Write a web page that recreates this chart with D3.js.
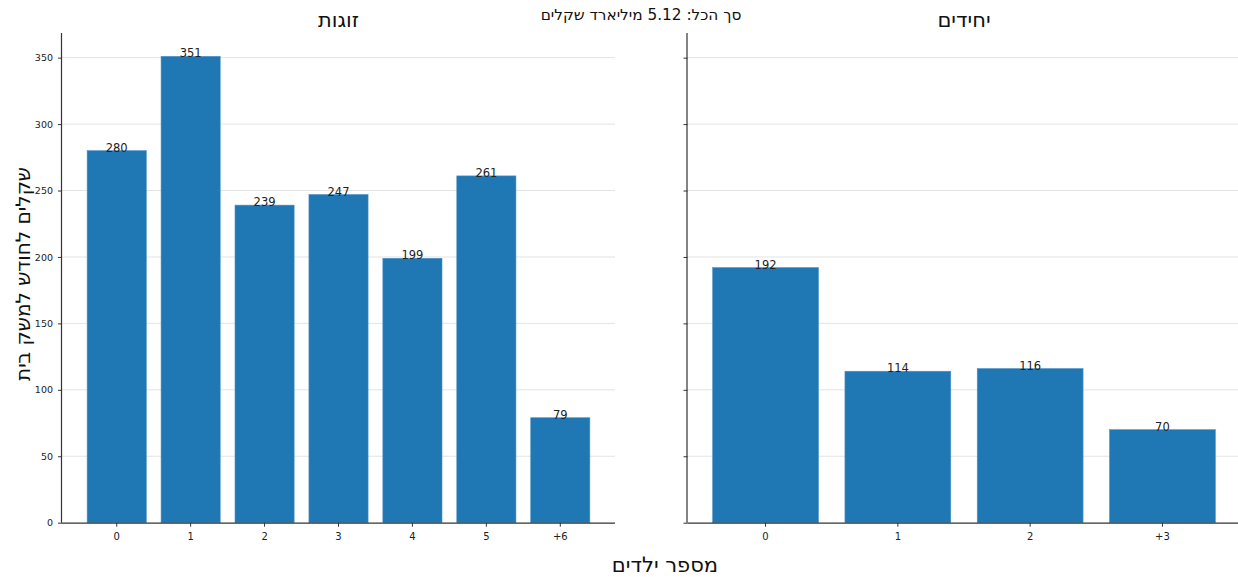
<!DOCTYPE html>
<html>
<head>
<meta charset="utf-8">
<script src="https://cdn.jsdelivr.net/npm/d3@7"></script>
<style>
  body { margin: 0; background: #fff; }
  svg { display: block; }
  text { font-family: "DejaVu Sans", sans-serif; }
</style>
</head>
<body>
<svg id="chart" width="1238" height="577"></svg>
<script>
const couplesCats = ["0", "1", "2", "3", "4", "5", "+6"];
const couplesVals = [280, 351, 239, 247, 199, 261, 79];
const singlesCats = ["0", "1", "2", "+3"];
const singlesVals = [192, 114, 116, 70];
const yTicks = [0, 50, 100, 150, 200, 250, 300, 350];
const couplesTitle = "זוגות";
const singlesTitle = "יחידים";
const supTitle = "סך הכל: 5.12 מיליארד שקלים";
const xLabel = "מספר ילדים";
const yLabel = "שקלים לחודש למשק בית";

const svg = d3.select("#chart");
const barColor = "#1f77b4";
const yMax = Math.max(...couplesVals, ...singlesVals) * 1.05;
const plotTop = 33, plotBottom = 522.7;
const y = d3.scaleLinear().domain([0, yMax]).range([plotBottom, plotTop]);

function panel(cats, vals, x0, x1, title, showLabels) {
  const n = cats.length;
  // matplotlib-like: bar width 0.8, margins 5% of data span
  const span = (n - 1) + 0.8;
  const po = (span * 1.1 - (n - 0.2)) / 2;
  const x = d3.scaleBand().domain(cats).range([x0, x1]).paddingInner(0.2).paddingOuter(po);
  const g = svg.append("g");

  // grid
  g.append("g").selectAll("line").data(yTicks.filter(d => d > 0)).join("line")
    .attr("x1", x0).attr("x2", x1)
    .attr("y1", d => y(d)).attr("y2", d => y(d))
    .attr("stroke", "#e3e3e3").attr("stroke-width", 1);

  // bars
  g.append("g").selectAll("rect").data(vals).join("rect")
    .attr("x", (d, i) => x(cats[i]))
    .attr("width", x.bandwidth())
    .attr("y", d => y(d))
    .attr("height", d => y(0) - y(d))
    .attr("fill", barColor)
    .attr("stroke", "#4d92c7").attr("stroke-width", 0.6);

  // value labels
  g.append("g").selectAll("text").data(vals).join("text")
    .attr("x", (d, i) => x(cats[i]) + x.bandwidth() / 2)
    .attr("y", d => y(d) + 1)
    .attr("text-anchor", "middle")
    .attr("font-size", 11.5)
    .attr("fill", "#222")
    .text(d => d);

  // y axis
  const yAxis = d3.axisLeft(y).tickValues(yTicks).tickSize(4).tickPadding(5)
    .tickFormat(showLabels ? d3.format("d") : () => "");
  const ya = g.append("g").attr("transform", `translate(${x0},0)`).call(yAxis);
  ya.select(".domain").attr("d", `M-0.5,${plotTop}V${plotBottom}`).attr("stroke", "#333").attr("stroke-width", 1.2);
  ya.selectAll(".tick line").attr("stroke", "#333");
  ya.selectAll(".tick text").attr("font-size", 9.5).attr("fill", "#222").attr("font-family", "DejaVu Sans");

  // x axis
  const xAxis = d3.axisBottom(x).tickSize(4).tickPadding(6);
  const xa = g.append("g").attr("transform", `translate(0,${plotBottom})`).call(xAxis);
  xa.select(".domain").attr("d", `M${x0},0.5H${x1}`).attr("stroke", "#333").attr("stroke-width", 1.2);
  xa.selectAll(".tick line").attr("stroke", "#333");
  xa.selectAll(".tick text").attr("font-size", 10).attr("fill", "#222").attr("font-family", "DejaVu Sans");

  // title
  g.append("text")
    .attr("x", (x0 + x1) / 2).attr("y", 27)
    .attr("text-anchor", "middle").attr("font-size", 21).attr("fill", "#111")
    .text(title);
}

panel(couplesCats, couplesVals, 62, 615, couplesTitle, true);
panel(singlesCats, singlesVals, 687.5, 1240.5, singlesTitle, false);

svg.append("text").attr("x", 641).attr("y", 20).attr("text-anchor", "middle")
  .attr("font-size", 15.3).attr("fill", "#111").text(supTitle);

svg.append("text").attr("x", 665).attr("y", 572).attr("text-anchor", "middle")
  .attr("font-size", 21).attr("fill", "#111").text(xLabel);

svg.append("text").attr("transform", "translate(30,274) rotate(-90)")
  .attr("text-anchor", "middle").attr("font-size", 20).attr("fill", "#111").text(yLabel);
</script>
</body>
</html>
